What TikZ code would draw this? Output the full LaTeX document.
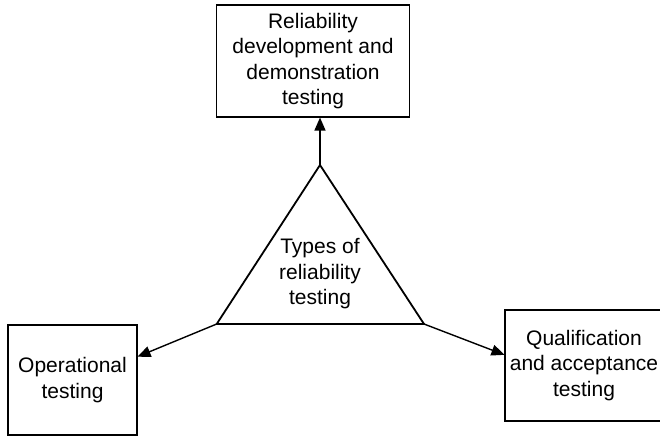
\documentclass[tikz,border=0pt]{standalone}
\usepackage{fontspec}
\setmainfont{Liberation Sans}
\usetikzlibrary{arrows.meta,calc}
\begin{document}
\begin{tikzpicture}[x=1pt,y=-1pt,
  txt/.style={font=\fontsize{21}{25.5}\selectfont, align=center, inner sep=0pt},
  box/.style={draw, line width=1.1pt, txt},
  arr/.style={line width=1.4pt, -{Triangle[length=13pt,width=11pt]}},
  tri/.style={line width=1.8pt, line join=miter}]
  \path[use as bounding box, clip] (0,0) rectangle (660,437);

  % the three test categories
  \node[box, minimum width=192.6pt, minimum height=112pt] (rel) at (313,61)
    {Reliability\\development and\\demonstration\\testing};
  \node[box, minimum width=129pt, minimum height=110pt] (op) at (72.5,380)
    {Operational\\testing};
  \node[box, minimum width=158pt, minimum height=111pt] (qa) at (584,365.5)
    {Qualification\\and acceptance\\testing};

  % central triangle
  \coordinate (apex) at (320,165);
  \coordinate (bl) at (216.7,324);
  \coordinate (br) at (424,324);
  \draw[tri] (apex) -- (bl) -- (br) -- cycle;
  \node[txt] (types) at (320,274) {Types of\\reliability\\testing};

  % connectors from the triangle corners to the boxes
  \draw[arr] (apex) -- (apex |- rel.south);
  \draw[arr] (bl) -- ($(op.north east)!0.29!(op.south east)$);
  \draw[arr] (br) -- ($(qa.north west)!0.405!(qa.south west)$);
\end{tikzpicture}
\end{document}
